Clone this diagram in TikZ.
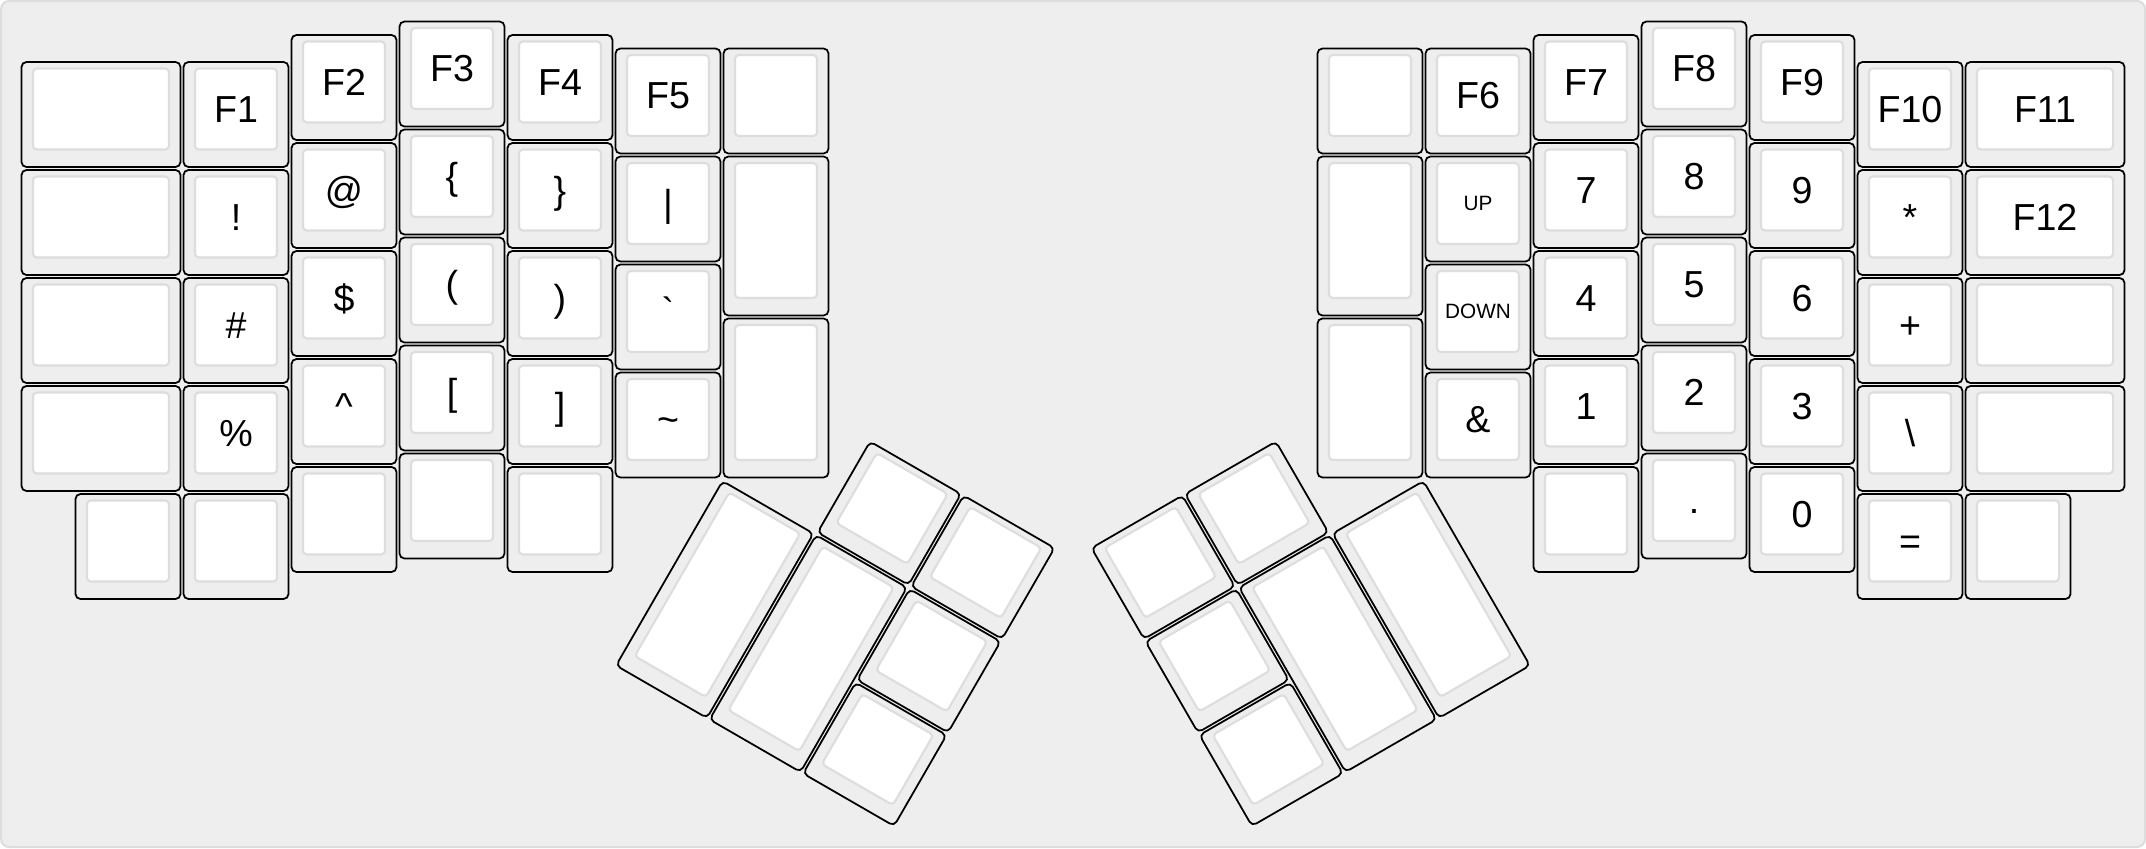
\documentclass[tikz,border=0pt]{standalone}
\usepackage{fontspec}
\setmainfont{Liberation Sans}
\usepackage{tikz}
\usepackage{xcolor}
\definecolor{boardfill}{HTML}{EEEEEE}
\definecolor{boardline}{HTML}{DDDDDD}
\definecolor{keygrey}{HTML}{EEEEEE}
\definecolor{topline}{HTML}{DDDDDD}
\newcommand{\kbgap}{0.014}
\newcommand{\kbside}{0.12}
\newcommand{\kbtop}{0.074}
\newcommand{\kbbot}{0.176}
\newcommand{\kbkey}[5]{\draw[keyside] (#1+\kbgap,#2+\kbgap) rectangle (#1+#3-\kbgap,#2+#4-\kbgap);
  \draw[keytop] (#1+\kbside,#2+\kbtop) rectangle (#1+#3-\kbside,#2+#4-\kbbot);
  \coordinate (#5) at (#1+0.5*#3,#2+0.5*#4+0.5*\kbtop-0.5*\kbbot);}
\newcommand{\kblabel}[2]{\node[keylabel] (#1t) at (#1) {#2};}
\newcommand{\kbsmall}[2]{\node[smalllabel] (#1t) at (#1) {#2};}
\tikzset{
  keyside/.style={draw=black,fill=keygrey,line width=0.5pt,rounded corners=1.4pt},
  keytop/.style={draw=topline,fill=white,line width=0.6pt,rounded corners=1.1pt},
  keylabel/.style={font=\fontsize{10.7}{12}\selectfont,text height=7.66pt,text depth=0pt,inner sep=0pt},
  smalllabel/.style={keylabel,font=\fontsize{5.9}{7}\selectfont,text height=4.22pt}
}

\begin{document}
\begin{tikzpicture}[x=1.08cm,y=-1.08cm]

    \useasboundingbox (-0.1852,-0.1852) rectangle (19.6852,7.6667);
    \draw[fill=boardfill,draw=boardline,line width=0.57pt,rounded corners=2.3pt] (-0.1759,-0.1759) rectangle (19.6759,7.6574);

    % left half
    \kbkey{0}{0.375}{1.5}{1}{L0r0}
    \kbkey{0}{1.375}{1.5}{1}{L0r1}
    \kbkey{0}{2.375}{1.5}{1}{L0r2}
    \kbkey{0}{3.375}{1.5}{1}{L0r3}
    \kbkey{0.5}{4.375}{1}{1}{L0r4}

    \kbkey{1.5}{0.375}{1}{1}{L1r0}
    \kbkey{1.5}{1.375}{1}{1}{L1r1}
    \kbkey{1.5}{2.375}{1}{1}{L1r2}
    \kbkey{1.5}{3.375}{1}{1}{L1r3}
    \kbkey{1.5}{4.375}{1}{1}{L1r4}

    \kbkey{2.5}{0.125}{1}{1}{L2r0}
    \kbkey{2.5}{1.125}{1}{1}{L2r1}
    \kbkey{2.5}{2.125}{1}{1}{L2r2}
    \kbkey{2.5}{3.125}{1}{1}{L2r3}
    \kbkey{2.5}{4.125}{1}{1}{L2r4}

    \kbkey{3.5}{0}{1}{1}{L3r0}
    \kbkey{3.5}{1}{1}{1}{L3r1}
    \kbkey{3.5}{2}{1}{1}{L3r2}
    \kbkey{3.5}{3}{1}{1}{L3r3}
    \kbkey{3.5}{4}{1}{1}{L3r4}

    \kbkey{4.5}{0.125}{1}{1}{L4r0}
    \kbkey{4.5}{1.125}{1}{1}{L4r1}
    \kbkey{4.5}{2.125}{1}{1}{L4r2}
    \kbkey{4.5}{3.125}{1}{1}{L4r3}
    \kbkey{4.5}{4.125}{1}{1}{L4r4}

    \kbkey{5.5}{0.25}{1}{1}{L5r0}
    \kbkey{5.5}{1.25}{1}{1}{L5r1}
    \kbkey{5.5}{2.25}{1}{1}{L5r2}
    \kbkey{5.5}{3.25}{1}{1}{L5r3}

    \kbkey{6.5}{0.25}{1}{1}{L6r0}
    \kbkey{6.5}{1.25}{1}{1.5}{L6r1}
    \kbkey{6.5}{2.75}{1}{1.5}{L6r2}

    \kblabel{L1r0}{F1}
    \kblabel{L1r1}{!}
    \kblabel{L1r2}{\#}
    \kblabel{L1r3}{\%}
    \kblabel{L2r0}{F2}
    \kblabel{L2r1}{@}
    \kblabel{L2r2}{\$}
    \kblabel{L2r3}{\textasciicircum}
    \kblabel{L3r0}{F3}
    \kblabel{L3r1}{\{}
    \kblabel{L3r2}{(}
    \kblabel{L3r3}{[}
    \kblabel{L4r0}{F4}
    \kblabel{L4r1}{\}}
    \kblabel{L4r2}{)}
    \kblabel{L4r3}{]}
    \kblabel{L5r0}{F5}
    \kblabel{L5r1}{\textbar}
    \kblabel{L5r2}{\textasciigrave}
    \kblabel{L5r3}{\textasciitilde}

    % right half
    \kbkey{12}{0.25}{1}{1}{R0r0}
    \kbkey{12}{1.25}{1}{1.5}{R0r1}
    \kbkey{12}{2.75}{1}{1.5}{R0r2}

    \kbkey{13}{0.25}{1}{1}{R1r0}
    \kbkey{13}{1.25}{1}{1}{R1r1}
    \kbkey{13}{2.25}{1}{1}{R1r2}
    \kbkey{13}{3.25}{1}{1}{R1r3}

    \kbkey{14}{0.125}{1}{1}{R2r0}
    \kbkey{14}{1.125}{1}{1}{R2r1}
    \kbkey{14}{2.125}{1}{1}{R2r2}
    \kbkey{14}{3.125}{1}{1}{R2r3}
    \kbkey{14}{4.125}{1}{1}{R2r4}

    \kbkey{15}{0}{1}{1}{R3r0}
    \kbkey{15}{1}{1}{1}{R3r1}
    \kbkey{15}{2}{1}{1}{R3r2}
    \kbkey{15}{3}{1}{1}{R3r3}
    \kbkey{15}{4}{1}{1}{R3r4}

    \kbkey{16}{0.125}{1}{1}{R4r0}
    \kbkey{16}{1.125}{1}{1}{R4r1}
    \kbkey{16}{2.125}{1}{1}{R4r2}
    \kbkey{16}{3.125}{1}{1}{R4r3}
    \kbkey{16}{4.125}{1}{1}{R4r4}

    \kbkey{17}{0.375}{1}{1}{R5r0}
    \kbkey{17}{1.375}{1}{1}{R5r1}
    \kbkey{17}{2.375}{1}{1}{R5r2}
    \kbkey{17}{3.375}{1}{1}{R5r3}
    \kbkey{17}{4.375}{1}{1}{R5r4}

    \kbkey{18}{0.375}{1.5}{1}{R6r0}
    \kbkey{18}{1.375}{1.5}{1}{R6r1}
    \kbkey{18}{2.375}{1.5}{1}{R6r2}
    \kbkey{18}{3.375}{1.5}{1}{R6r3}
    \kbkey{18}{4.375}{1}{1}{R6r4}

    \kblabel{R1r0}{F6}
    \kbsmall{R1r1}{UP}
    \kbsmall{R1r2}{DOWN}
    \kblabel{R1r3}{\&}
    \kblabel{R2r0}{F7}
    \kblabel{R2r1}{7}
    \kblabel{R2r2}{4}
    \kblabel{R2r3}{1}
    \kblabel{R3r0}{F8}
    \kblabel{R3r1}{8}
    \kblabel{R3r2}{5}
    \kblabel{R3r3}{2}
    \kblabel{R3r4}{.}
    \kblabel{R4r0}{F9}
    \kblabel{R4r1}{9}
    \kblabel{R4r2}{6}
    \kblabel{R4r3}{3}
    \kblabel{R4r4}{0}
    \kblabel{R5r0}{F10}
    \kblabel{R5r1}{*}
    \kblabel{R5r2}{+}
    \kblabel{R5r3}{\textbackslash}
    \kblabel{R5r4}{=}
    \kblabel{R6r0}{F11}
    \kblabel{R6r1}{F12}

    % thumb clusters
    \begin{scope}[shift={(6.5,4.25)},rotate=-30]
    \kbkey{1}{-1}{1}{1}{LT1}
    \kbkey{2}{-1}{1}{1}{LT2}
    \kbkey{0}{0}{1}{2}{LT3}
    \kbkey{1}{0}{1}{2}{LT4}
    \kbkey{2}{0}{1}{1}{LT5}
    \kbkey{2}{1}{1}{1}{LT6}
    \end{scope}

    \begin{scope}[shift={(13,4.25)},rotate=30]
    \kbkey{-3}{-1}{1}{1}{RT1}
    \kbkey{-2}{-1}{1}{1}{RT2}
    \kbkey{-3}{0}{1}{1}{RT3}
    \kbkey{-2}{0}{1}{2}{RT4}
    \kbkey{-1}{0}{1}{2}{RT5}
    \kbkey{-3}{1}{1}{1}{RT6}
    \end{scope}

\end{tikzpicture}
\end{document}
